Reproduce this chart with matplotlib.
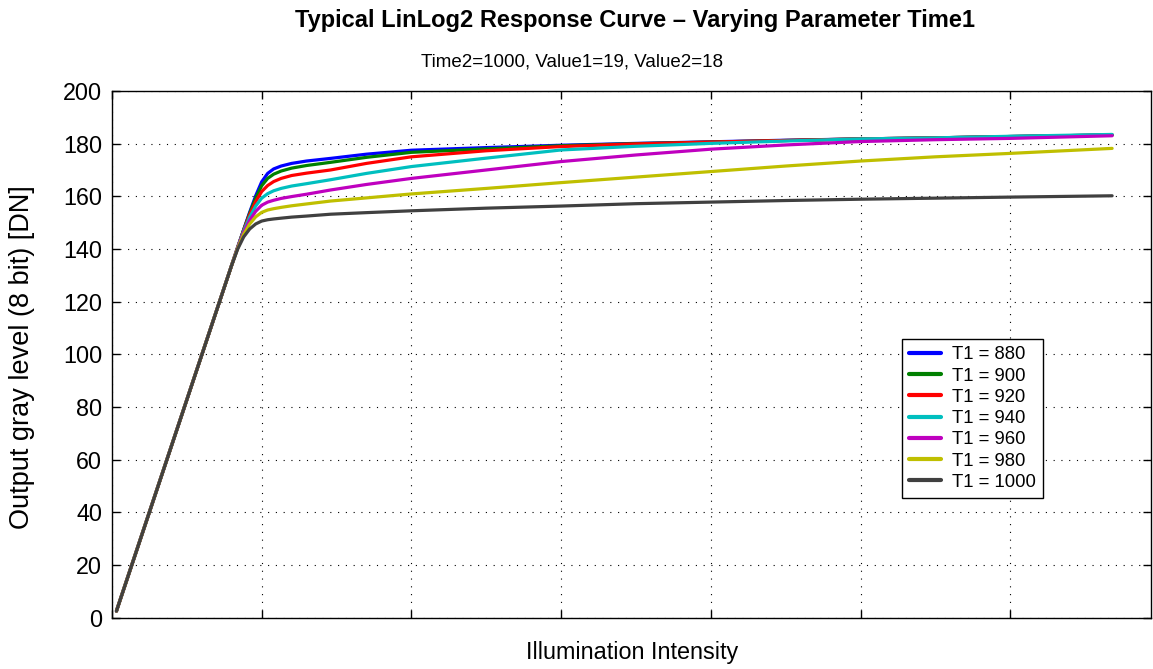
import matplotlib
matplotlib.use("Agg")
import matplotlib.pyplot as plt

plt.rcParams['font.family'] = ['Liberation Sans', 'DejaVu Sans']

# Illumination intensity (arbitrary units, grid spacing = 1)
x = [0.03, 0.80, 0.84, 0.88, 0.92, 0.96, 1.00, 1.04, 1.08, 1.13, 1.20, 1.30, 1.46, 1.70,
     2.00, 2.50, 3.00, 3.50, 4.00, 4.50, 5.00, 5.50, 6.00, 6.68]

t1_880 = [2.5, 133.9, 140.7, 147.4, 154.0, 160.2, 165.5, 168.7, 170.4, 171.5, 172.5, 173.4, 174.4, 176.0,
          177.5, 178.5, 179.4, 180.1, 180.7, 181.3, 181.8, 182.2, 182.7, 183.3]
t1_900 = [2.5, 133.9, 140.7, 147.3, 153.6, 159.3, 164.0, 166.8, 168.4, 169.6, 170.7, 171.7, 172.9, 174.8,
          176.7, 178.0, 179.2, 180.0, 180.6, 181.2, 181.8, 182.2, 182.7, 183.3]
t1_920 = [2.5, 133.9, 140.7, 147.1, 153.0, 158.0, 161.8, 164.1, 165.6, 166.8, 167.9, 168.8, 170.0, 172.5,
          175.0, 177.3, 178.9, 179.9, 180.6, 181.2, 181.8, 182.2, 182.7, 183.3]
t1_940 = [2.5, 133.9, 140.6, 146.8, 152.1, 156.3, 159.3, 161.0, 162.1, 163.0, 163.9, 164.8, 166.3, 168.7,
          171.3, 174.5, 177.6, 179.0, 180.1, 181.0, 181.8, 182.2, 182.8, 183.5]
t1_960 = [2.5, 133.9, 140.5, 146.3, 150.9, 154.3, 156.6, 157.8, 158.5, 159.2, 159.9, 160.8, 162.4, 164.5,
          166.8, 170.0, 173.2, 175.7, 177.9, 179.5, 180.8, 181.5, 182.0, 183.0]
t1_980 = [2.5, 133.9, 140.3, 145.6, 149.5, 152.2, 153.9, 154.8, 155.3, 155.8, 156.4, 157.1, 158.2, 159.4,
          160.9, 163.0, 165.2, 167.3, 169.4, 171.5, 173.4, 175.0, 176.3, 178.2]
t1_1000 = [2.5, 133.9, 140.0, 144.6, 147.6, 149.5, 150.6, 151.1, 151.4, 151.7, 152.1, 152.5, 153.2, 153.8,
           154.5, 155.5, 156.3, 157.2, 157.8, 158.4, 158.9, 159.3, 159.7, 160.2]

series = [
    ("T1 = 880", t1_880, (0, 0, 1)),
    ("T1 = 900", t1_900, (0, 0.5, 0)),
    ("T1 = 920", t1_920, (1, 0, 0)),
    ("T1 = 940", t1_940, (0, 0.75, 0.75)),
    ("T1 = 960", t1_960, (0.75, 0, 0.75)),
    ("T1 = 980", t1_980, (0.75, 0.75, 0)),
    ("T1 = 1000", t1_1000, (0.25, 0.25, 0.25)),
]

y_ticks = [0, 20, 40, 60, 80, 100, 120, 140, 160, 180, 200]
x_ticks = [0, 1, 2, 3, 4, 5, 6]

fig = plt.figure(figsize=(11.53, 6.69), dpi=100)
ax = fig.add_axes([0.0971, 0.0768, 0.9012, 0.7872])

for label, ys, col in series:
    ax.plot(x, ys, color=col, lw=2.3, label=label,
            solid_joinstyle='round', solid_capstyle='round')

ax.set_xlim(0, 6.94)
ax.set_ylim(0, 200)
ax.set_xticks(x_ticks)
ax.set_xticklabels([])
ax.set_yticks(y_ticks)
ax.tick_params(axis='both', direction='in', length=6, width=1, top=True, right=True,
               labelsize=16.8, pad=7)
ax.grid(True, color='black', linestyle=(0, (1, 6)), linewidth=0.8)
for s in ax.spines.values():
    s.set_linewidth(1.0)

fig.text(0.548, 0.024, "Illumination Intensity", ha='center', va='center', fontsize=16.8)
fig.text(0.019, 0.466, "Output gray level (8 bit) [DN]", ha='center', va='center',
         rotation=90, fontsize=19.5)

fig.text(0.551, 0.969, "Typical LinLog2 Response Curve \u2013 Varying Parameter Time1",
         ha='center', va='center', fontsize=17, fontweight='bold')
fig.text(0.4965, 0.907, "Time2=1000, Value1=19, Value2=18",
         ha='center', va='center', fontsize=13.5)

leg = ax.legend(loc='upper left', bbox_to_anchor=(0.7606, 0.5285), borderaxespad=0,
                fontsize=13.3, frameon=True, fancybox=False, edgecolor='black',
                framealpha=1, handlelength=1.7, borderpad=0.38, labelspacing=0.23,
                handletextpad=0.6)
leg.get_frame().set_linewidth(1.0)
for line in leg.get_lines():
    line.set_linewidth(3.0)

fig.savefig("out.png", dpi=100)
